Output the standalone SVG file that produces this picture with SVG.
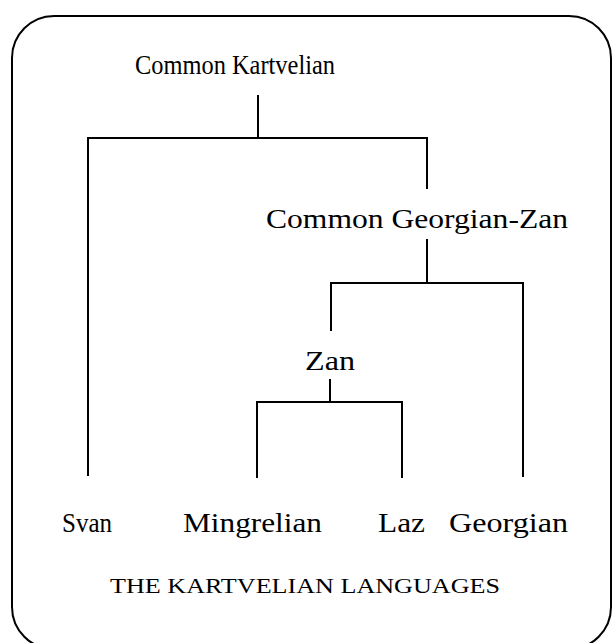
<svg xmlns="http://www.w3.org/2000/svg" width="613" height="643" viewBox="0 0 613 643">
<style>
.lbl{font-family:"Liberation Serif","DejaVu Serif","Noto Serif","Times New Roman",serif;font-size:27px;fill:#000}
.title{font-family:"Liberation Serif","DejaVu Serif","Noto Serif","Times New Roman",serif;font-size:21px;fill:#000}
.ln{stroke:#000;stroke-width:2;fill:none;stroke-linecap:square}
</style>
<rect x="0" y="0" width="613" height="643" fill="#fff"/>
<rect id="frame" x="12" y="16" width="599" height="633" rx="42" ry="42" fill="none" stroke="#000" stroke-width="2"/>
<g id="connectors" class="ln">
<path d="M258 96V138M88 138H427M88 138V475M427 138V188"/>
<path d="M427 240V283M331 283H523M331 283V330M523 283V476"/>
<path d="M330 380V402M257 402H402M257 402V477M402 402V477"/>
</g>
<g id="common-kartvelian"><text class="lbl" x="135" y="74" textLength="200" lengthAdjust="spacingAndGlyphs">Common Kartvelian</text></g>
<g id="common-georgian-zan"><text class="lbl" x="266" y="228" textLength="302" lengthAdjust="spacingAndGlyphs">Common Georgian-Zan</text></g>
<g id="zan"><text class="lbl" x="305" y="370" textLength="50" lengthAdjust="spacingAndGlyphs">Zan</text></g>
<g id="svan"><text class="lbl" x="62" y="532" textLength="50" lengthAdjust="spacingAndGlyphs">Svan</text></g>
<g id="mingrelian"><text class="lbl" x="183" y="532" textLength="139" lengthAdjust="spacingAndGlyphs">Mingrelian</text></g>
<g id="laz"><text class="lbl" x="378" y="532" textLength="47" lengthAdjust="spacingAndGlyphs">Laz</text></g>
<g id="georgian"><text class="lbl" x="449" y="532" textLength="119" lengthAdjust="spacingAndGlyphs">Georgian</text></g>
<g id="caption"><text class="title" x="110" y="593" textLength="390" lengthAdjust="spacingAndGlyphs">THE KARTVELIAN LANGUAGES</text></g>
</svg>
